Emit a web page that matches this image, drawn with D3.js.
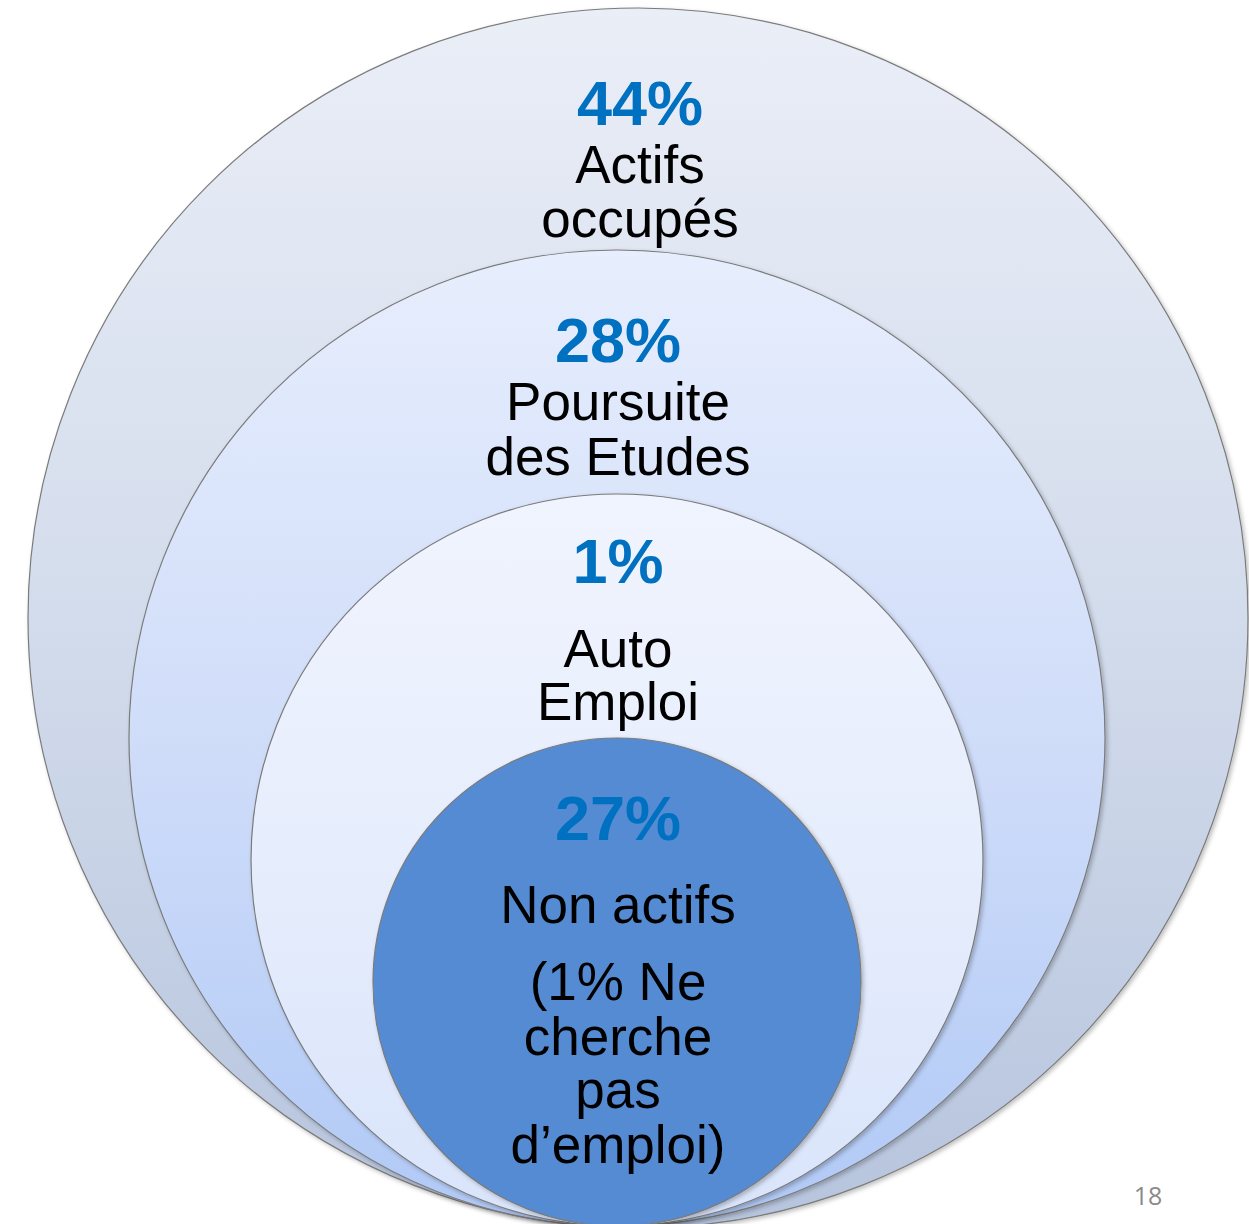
<!DOCTYPE html>
<html lang="fr">
<head>
    <meta charset="UTF-8">
    <title>Devenir des diplômés</title>
    <script src="https://d3js.org/d3.v7.min.js"></script>
    <style>
        body { margin: 0; background: #fff; }
    </style>
</head>
<body>
<svg width="1249" height="1224"></svg>
<script>
    // data, outermost layer first
    var categories = ["Actifs occupés", "Poursuite des Etudes", "Auto Emploi", "Non actifs"];
    var percents = [44, 28, 1, 27];
    var labelLines = [
        ["Actifs", "occupés"],
        ["Poursuite", "des Etudes"],
        ["Auto", "Emploi"],
        ["Non actifs", "(1% Ne", "cherche", "pas", "d\u2019emploi)"]
    ];
    var pageNumber = "18";

    var svg = d3.select("svg"),
        width = +svg.attr("width"),
        height = +svg.attr("height");

    // layout
    var baseY = 1226,       // common tangent point at the bottom
        centerX = 617;
    var rScale = d3.scaleLinear().domain([0, categories.length + 1]).range([610, 0]);

    var fills = [
        ["#eaeef7", "#d3dcec", "#b6c4dd"],
        ["#e7eefd", "#d0ddf9", "#b0c9f6"],
        ["#f0f4fe", "#e6edfc", "#d9e4fb"],
        ["#558bd3", "#558bd3", "#558bd3"]
    ];
    // baselines of the text lines, relative to the top of each circle
    var pctOffset = [117, 112, 89, 102];
    var lineOffsets = [
        [175, 229],
        [170, 225],
        [173, 226],
        [185, 262, 317, 370, 425]
    ];

    var layers = categories.map(function(c, i) {
        var r = rScale(i);
        return {
            name: c, pct: percents[i], lines: labelLines[i], i: i, r: r,
            cx: centerX + (i === 0 ? 21 : 0),
            cy: baseY - r + (i === 0 ? 2 : 0)
        };
    });

    var defs = svg.append("defs");
    layers.forEach(function(d) {
        var g = defs.append("linearGradient")
            .attr("id", "grad" + d.i)
            .attr("x1", 0).attr("y1", 0).attr("x2", 0).attr("y2", 1);
        fills[d.i].forEach(function(col, k) {
            g.append("stop").attr("offset", (k / 2 * 100) + "%").attr("stop-color", col);
        });
    });
    var shadow = defs.append("filter").attr("id", "shadow")
        .attr("x", "-10%").attr("y", "-10%").attr("width", "120%").attr("height", "120%");
    shadow.append("feDropShadow")
        .attr("dx", 2).attr("dy", 2).attr("stdDeviation", 2)
        .attr("flood-color", "#000").attr("flood-opacity", 0.25);

    svg.selectAll("circle.layer")
        .data(layers)
        .join("circle")
        .attr("class", "layer")
        .attr("cx", function(d) { return d.cx; })
        .attr("cy", function(d) { return d.cy; })
        .attr("r", function(d) { return d.r; })
        .attr("fill", function(d) { return "url(#grad" + d.i + ")"; })
        .attr("stroke", "#7b7b7b")
        .attr("stroke-width", 1.2)
        .attr("filter", "url(#shadow)");

    var labels = svg.selectAll("g.label")
        .data(layers)
        .join("g")
        .attr("class", "label")
        .attr("font-family", "'Liberation Sans', Arial, sans-serif")
        .attr("text-anchor", "middle");

    labels.append("text")
        .attr("x", function(d) { return d.cx + (d.i === 0 ? 2 : 1); })
        .attr("y", function(d) { return d.cy - d.r + pctOffset[d.i]; })
        .attr("font-size", 63)
        .attr("font-weight", "bold")
        .attr("fill", "#0070c0")
        .text(function(d) { return d.pct + "%"; });

    labels.each(function(d) {
        d3.select(this).selectAll("text.line")
            .data(d.lines)
            .join("text")
            .attr("class", "line")
            .attr("x", d.cx + (d.i === 0 ? 2 : 1))
            .attr("y", function(t, k) { return d.cy - d.r + lineOffsets[d.i][k]; })
            .attr("font-size", 53)
            .attr("fill", "#000")
            .text(function(t) { return t; });
    });

    svg.append("text")
        .attr("x", 1148)
        .attr("y", 1205)
        .attr("text-anchor", "middle")
        .attr("font-family", "'Open Sans', sans-serif")
        .attr("font-size", 25)
        .attr("fill", "#8a8a8a")
        .text(pageNumber);
</script>
</body>
</html>
